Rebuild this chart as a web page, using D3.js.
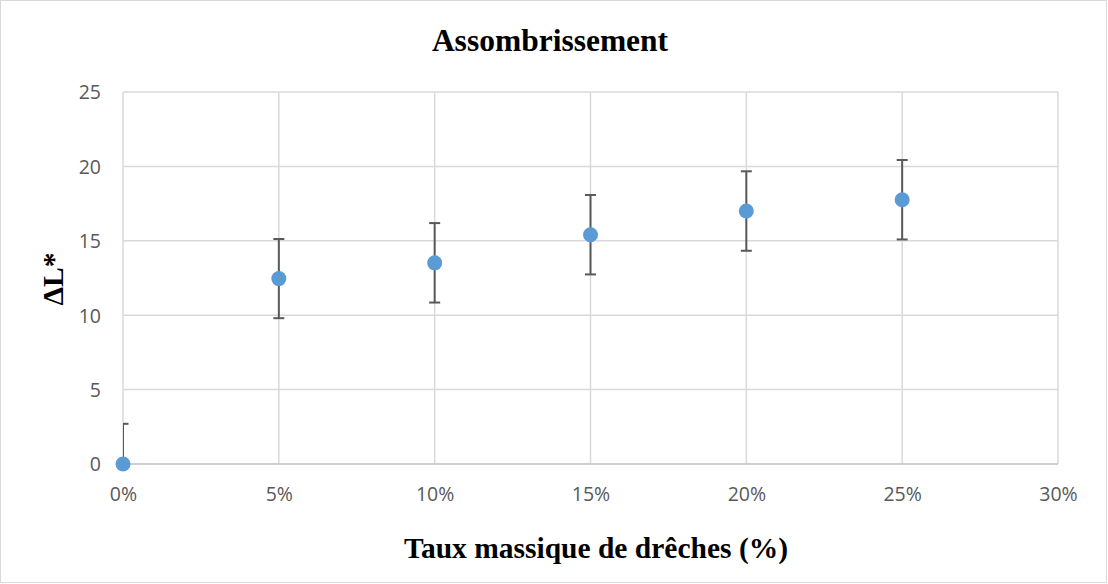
<!DOCTYPE html>
<html><head><meta charset="utf-8">
<script src="https://cdn.jsdelivr.net/npm/d3@7"></script>
<style>body{margin:0;background:#fff}svg{display:block}</style>
</head><body>
<script>
const xValues = [0, 0.05, 0.10, 0.15, 0.20, 0.25];
const deltaL = [0, 12.46, 13.52, 15.41, 17.0, 17.76];
const errors = [2.7, 2.66, 2.67, 2.67, 2.67, 2.67];
const xTicks = [0, 0.05, 0.10, 0.15, 0.20, 0.25, 0.30];
const yTicks = [0, 5, 10, 15, 20, 25];

const W = 1108, H = 584;
const m = {left: 123, right: 1058, top: 92, bottom: 464};
const svg = d3.select("body").append("svg").attr("width", W).attr("height", H);
svg.append("rect").attr("x", 0.5).attr("y", 0.5).attr("width", W - 2).attr("height", H - 2)
  .attr("fill", "#fff").attr("stroke", "#d9d9d9");

const x = d3.scaleLinear().domain([0, 0.30]).range([m.left, m.right]);
const y = d3.scaleLinear().domain([0, 25]).range([m.bottom, m.top]);

// grid
svg.append("g").selectAll("line").data(yTicks.filter(d => d > 0)).join("line")
  .attr("x1", m.left).attr("x2", m.right).attr("y1", d => y(d)).attr("y2", d => y(d))
  .attr("stroke", "#d9d9d9").attr("stroke-width", 1.5);
svg.append("g").selectAll("line").data(xTicks).join("line")
  .attr("x1", d => x(d)).attr("x2", d => x(d)).attr("y1", m.top).attr("y2", m.bottom)
  .attr("stroke", "#d9d9d9").attr("stroke-width", 1.5);
svg.append("line").attr("x1", m.left).attr("x2", m.right).attr("y1", y(0)).attr("y2", y(0))
  .attr("stroke", "#bfbfbf").attr("stroke-width", 1.5);

// axes labels
const xAxis = d3.axisBottom(x).tickValues(xTicks).tickFormat(d3.format(".0%")).tickSize(0).tickPadding(0);
const gx = svg.append("g").attr("transform", `translate(0,${m.bottom})`).call(xAxis);
gx.select(".domain").remove();
gx.selectAll("text").attr("dy", null).attr("y", 37).attr("fill", "#595959")
  .style("font-family", "'Open Sans', sans-serif").style("font-size", "19.5px");

const yAxis = d3.axisLeft(y).tickValues(yTicks).tickSize(0).tickPadding(0);
const gy = svg.append("g").attr("transform", `translate(${m.left},0)`).call(yAxis);
gy.select(".domain").remove();
gy.selectAll("text").attr("x", -22).attr("dy", "0.35em").attr("fill", "#595959")
  .style("font-family", "'Open Sans', sans-serif").style("font-size", "19.5px");

// clip
svg.append("clipPath").attr("id", "clip").append("rect")
  .attr("x", m.left).attr("y", m.top).attr("width", m.right - m.left).attr("height", m.bottom - m.top);

const data = xValues.map((v, i) => ({x: v, y: deltaL[i], e: errors[i]}));
const eb = svg.append("g").attr("clip-path", "url(#clip)").attr("stroke", "#595959").attr("stroke-width", 2);
eb.selectAll("line.v").data(data).join("line").attr("class", "v")
  .attr("x1", d => x(d.x)).attr("x2", d => x(d.x))
  .attr("y1", d => y(d.y - d.e)).attr("y2", d => y(d.y + d.e));
eb.selectAll("line.t").data(data).join("line").attr("class", "t")
  .attr("x1", d => x(d.x) - 5.5).attr("x2", d => x(d.x) + 5.5)
  .attr("y1", d => y(d.y + d.e)).attr("y2", d => y(d.y + d.e));
eb.selectAll("line.b").data(data).join("line").attr("class", "b")
  .attr("x1", d => x(d.x) - 5.5).attr("x2", d => x(d.x) + 5.5)
  .attr("y1", d => y(d.y - d.e)).attr("y2", d => y(d.y - d.e));

svg.append("g").selectAll("circle").data(data).join("circle")
  .attr("cx", d => x(d.x)).attr("cy", d => y(d.y)).attr("r", 7.5).attr("fill", "#5b9bd5");

// titles
const serif = "'Liberation Serif', 'Times New Roman', serif";
svg.append("text").attr("x", 550).attr("y", 51).attr("text-anchor", "middle")
  .style("font-family", serif).style("font-weight", "bold")
  .style("font-size", "31.5px").attr("fill", "#000").text("Assombrissement");
svg.append("text").attr("x", 596).attr("y", 558).attr("text-anchor", "middle")
  .style("font-family", serif).style("font-weight", "bold")
  .style("font-size", "29.5px").attr("fill", "#000").text("Taux massique de drêches (%)");
svg.append("text").attr("transform", "translate(63,279) rotate(-90)").attr("text-anchor", "middle")
  .style("font-family", serif).style("font-weight", "bold")
  .style("font-size", "29.5px").attr("fill", "#000").text("ΔL*");
</script>
</body></html>
